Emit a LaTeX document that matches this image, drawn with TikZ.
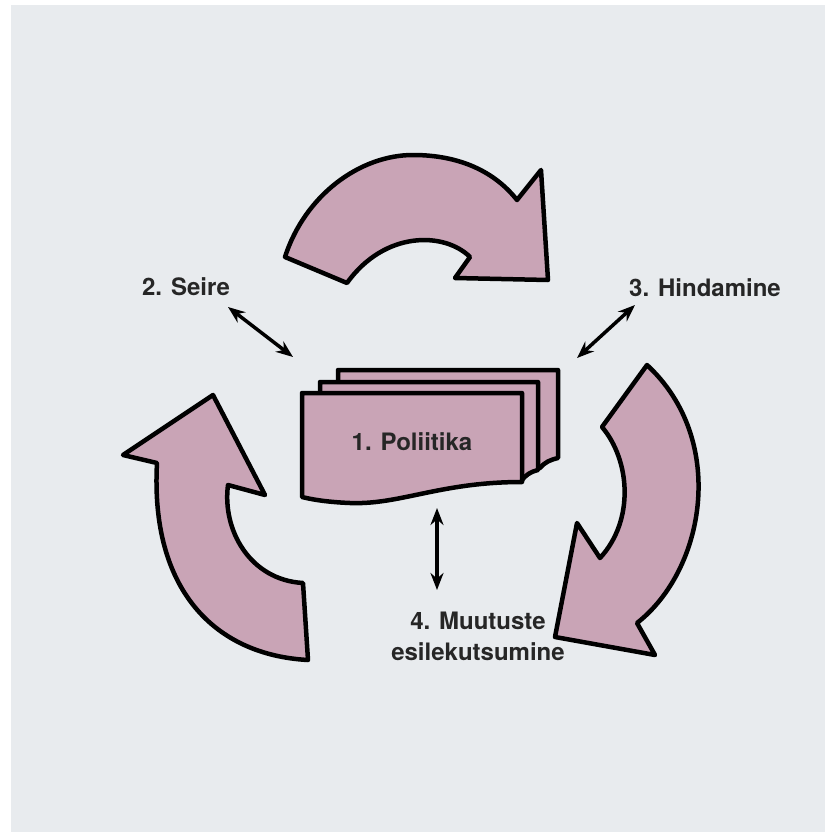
\documentclass[tikz,border=0pt]{standalone}
\usepackage{fontspec}
\setsansfont{TeX Gyre Heros}
\usetikzlibrary{arrows.meta,positioning}
\definecolor{bg}{HTML}{E8EBEE}
\definecolor{rose}{HTML}{C9A4B6}

\begin{document}
\begin{tikzpicture}[x=1pt,y=-1pt,
	blob/.style={draw=black,fill=rose,line width=4.5pt,line join=round},
	lbl/.style={font=\sffamily\bfseries\fontsize{24}{31}\selectfont,text=black!85,align=center,inner sep=0pt},
	link/.style={line width=3.5pt,{Stealth[length=17pt,width=13pt]}-{Stealth[length=17pt,width=13pt]}}]
	\useasboundingbox (0,0) rectangle (825,832);
	\fill[white] (0,0) rectangle (825,832);
	\fill[bg] (11,5) rectangle (825,832);
	% cycle arrows
	\draw[blob] (285,257) .. controls (305,195) and (360,155) .. (413,155)
		.. controls (460,155) and (495,172) .. (517,200) -- (541,170) -- (548,280)
		-- (455,278) -- (470,257) .. controls (445,232) and (385,230) .. (347,283) -- cycle;
	\draw[blob] (647,365) -- (602,427) .. controls (630,460) and (635,520) .. (600,558)
		-- (577,523) -- (555,637) -- (655,655) -- (637,623)
		.. controls (705,570) and (728,440) .. (647,365) -- cycle;
	\draw[blob] (157,463) -- (123,455) -- (213,395) -- (265,495) -- (228,485)
		.. controls (222,530) and (250,580) .. (303,583) -- (308,660)
		.. controls (215,655) and (150,590) .. (157,463) -- cycle;
	% stacked pages
	\draw[blob] (338,370) -- (558,370) -- (558,458) .. controls (550,460) and (545,462) .. (540,468) -- (338,468) -- cycle;
	\draw[blob] (320,382) -- (538,382) -- (538,470) .. controls (530,472) and (526,475) .. (522,480) -- (320,480) -- cycle;
	\draw[blob] (302,393) -- (522,393) -- (522,482) .. controls (440,482) and (400,505) .. (350,503)
		.. controls (325,502) and (310,499) .. (302,497) -- cycle;
	\node[lbl] (1) at (412,442) {1. Poliitika};
	\node[lbl] (2) at (186,287) {2. Seire};
	\node[lbl] (3) at (705,288) {3. Hindamine};
	\node[lbl] (4) at (478,636) {4. Muutuste\\esilekutsumine};
	\coordinate (2a) at (228,307);
	\coordinate (2b) at (293,357);
	\coordinate (3a) at (635,305);
	\coordinate (3b) at (577,358);
	\coordinate (4a) at (437,508);
	\coordinate (4b) at (437,590);
	\draw[link] (2a) -- (2b);
	\draw[link] (3a) -- (3b);
	\draw[link] (4a) -- (4b);
\end{tikzpicture}
\end{document}
